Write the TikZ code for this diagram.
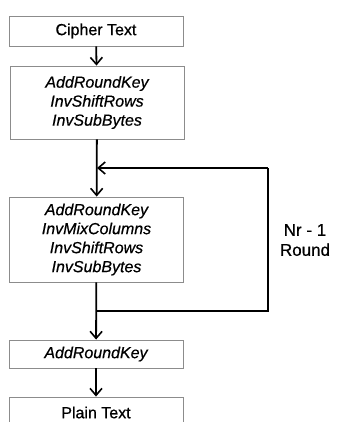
\documentclass[tikz,border=0pt]{standalone}
\usepackage{fontspec}
\setmainfont[FakeBold=0.7,ItalicFeatures={FakeBold=0.5}]{Liberation Sans}
\usetikzlibrary{arrows.meta}
\begin{document}
\begin{tikzpicture}[x=1pt,y=-1pt,
  stage/.style={draw=black!45,line width=0.9pt,fill=white,minimum width=174pt,inner sep=0pt,align=center,font=\fontsize{16}{19}\selectfont},
  op/.style={stage,font=\fontsize{16}{19}\selectfont\itshape},
  flow/.style={line width=1.8pt,-{Straight Barb[length=7pt,width=12pt,line width=1.6pt]}},
  loop/.style={line width=1.8pt}]
\useasboundingbox (0,0) rectangle (340,422);
\clip (0,0) rectangle (340,422);
\node [stage,minimum height=30pt] (cipher) at (96,31) {Cipher Text};
\node [op,minimum height=73pt] (first) at (97,102.5) {AddRoundKey\\InvShiftRows\\InvSubBytes};
\node [op,minimum height=85pt] (round) at (96.5,239.5) {AddRoundKey\\InvMixColumns\\InvShiftRows\\InvSubBytes};
\node [op,minimum height=28pt] (final) at (96,354) {AddRoundKey};
\node [stage,minimum height=31pt] (plain) at (96,412.5) {Plain Text};
\coordinate (loopin) at (96,168);
\coordinate (loopout) at (96,311);
\coordinate (loopnw) at (268,168);
\coordinate (loopsw) at (268,311);
\draw [flow] (cipher) -- (first);
\draw [flow] (first) -- (round);
\draw [loop] (loopout) -- (loopsw) -- (loopnw);
\draw [flow] (loopnw) -- ([xshift=1pt]loopin);
\draw [flow] (round) -- (final);
\draw [flow] (final) -- (plain);
\node [align=center,font=\fontsize{17}{20}\selectfont] (rounds) at (305,240) {Nr - 1\\Round};
\end{tikzpicture}
\end{document}
